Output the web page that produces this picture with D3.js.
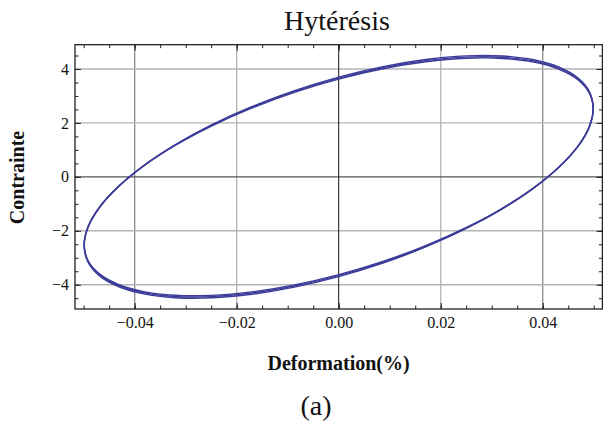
<!DOCTYPE html>
<html><head><meta charset="utf-8">
<script src="https://cdn.jsdelivr.net/npm/d3@7"></script>
<style>
html,body{margin:0;padding:0;background:#fff;}
svg{display:block;}
svg text{font-family:"Liberation Serif",serif;}
</style></head>
<body>
<svg id="chart" width="603" height="425"></svg>
<script>
// ---- data ----
const title = "Hytérésis";
const xLabel = "Deformation(%)";
const yLabel = "Contrainte";
const caption = "(a)";
const xTicks = [-0.04, -0.02, 0, 0.02, 0.04];
const xTickLabels = ["\u22120.04", "\u22120.02", "0.00", "0.02", "0.04"];
const yTicks = [-4, -2, 0, 2, 4];
const yTickLabels = ["\u22124", "\u22122", "0", "2", "4"];
// strain values shared by the cycles
const strain = [0, 0.00867, 0.01707, 0.02495, 0.03208, 0.03823, 0.04321, 0.04689, 0.04914, 0.0499,
  0.04914, 0.04689, 0.04321, 0.03823, 0.03208, 0.02495, 0.01707, 0.00867,
  0, -0.00867, -0.01707, -0.02495, -0.03208, -0.03823, -0.04321, -0.04689, -0.04914, -0.0499,
  -0.04914, -0.04689, -0.04321, -0.03823, -0.03208, -0.02495, -0.01707, -0.00867];
// cycle 1 (inner)
const stress1 = [3.626, 4.007, 4.266, 4.395, 4.391, 4.254, 3.987, 3.599, 3.102, 2.511,
  1.843, 1.119, 0.361, -0.407, -1.164, -1.885, -2.548, -3.135,
  -3.626, -4.007, -4.266, -4.395, -4.391, -4.254, -3.987, -3.599, -3.102, -2.511,
  -1.843, -1.119, -0.361, 0.407, 1.164, 1.885, 2.548, 3.135];
// cycle 2 (middle)
const stress2 = [3.663, 4.047, 4.309, 4.440, 4.436, 4.297, 4.028, 3.636, 3.134, 2.536,
  1.862, 1.131, 0.365, -0.412, -1.176, -1.904, -2.574, -3.167,
  -3.663, -4.047, -4.309, -4.440, -4.436, -4.297, -4.028, -3.636, -3.134, -2.536,
  -1.862, -1.131, -0.365, 0.412, 1.176, 1.904, 2.574, 3.167];
// cycle 3 (outer)
const stress3 = [3.700, 4.088, 4.353, 4.485, 4.481, 4.341, 4.068, 3.673, 3.165, 2.562,
  1.880, 1.142, 0.369, -0.416, -1.187, -1.923, -2.600, -3.199,
  -3.700, -4.088, -4.353, -4.485, -4.481, -4.341, -4.068, -3.673, -3.165, -2.562,
  -1.880, -1.142, -0.369, 0.416, 1.187, 1.923, 2.600, 3.199];
const xMinor = d3.range(-50, 51, 5).map(v => v / 1000);
const yMinor = d3.range(-45, 46, 5).map(v => v / 10);

// ---- layout ----
const L = 75, R = 602.4, T = 44.7, B = 309;
const serif = "Liberation Serif, serif";
const svg = d3.select("#chart");
const x = d3.scaleLinear().domain([-0.0517, 0.0517]).range([L, R]);
const y = d3.scaleLinear().domain([-4.9, 4.9]).range([B, T]);

// grid
const g = svg.append("g");
g.selectAll("line.gx").data(xTicks.filter(v => v !== 0)).join("line")
  .attr("x1", d => x(d)).attr("x2", d => x(d)).attr("y1", T).attr("y2", B)
  .attr("stroke", d => Math.abs(d) > 0.03 ? "#8c8c8c" : "#b4b4b4").attr("stroke-width", 1.3);
g.selectAll("line.gy").data(yTicks.filter(v => v !== 0)).join("line")
  .attr("x1", L).attr("x2", R).attr("y1", d => y(d)).attr("y2", d => y(d))
  .attr("stroke", "#b4b4b4").attr("stroke-width", 1.4);
g.append("line").attr("x1", L).attr("x2", R).attr("y1", y(0)).attr("y2", y(0))
  .attr("stroke", "#555").attr("stroke-width", 1.4);
g.append("line").attr("x1", x(0)).attr("x2", x(0)).attr("y1", T).attr("y2", B)
  .attr("stroke", "#111").attr("stroke-width", 1);

// curves
const line = d3.line().x(d => x(d[0])).y(d => y(d[1])).curve(d3.curveCatmullRomClosed);
[stress1, stress2, stress3].forEach(ys => {
  svg.append("path").datum(strain.map((v, i) => [v, ys[i]]))
    .attr("d", line).attr("fill", "none").attr("stroke", "#3c3c9a").attr("stroke-width", 1.4);
});

// axes (ticks inward on all sides)
function styleAxis(sel) {
  sel.attr("font-family", null).attr("font-size", null);
  sel.select(".domain").remove();
  sel.selectAll("line").attr("stroke", "#222").attr("stroke-width", 1);
  sel.selectAll("text").style("font-family", serif).style("font-size", "16px").attr("fill", "#111");
}
svg.append("g").attr("transform", `translate(0,${B})`)
  .call(d3.axisBottom(x).tickValues(xTicks).tickSize(-6).tickPadding(8)
    .tickFormat((d, i) => xTickLabels[i])).call(styleAxis);
svg.append("g").attr("transform", `translate(0,${B})`)
  .call(d3.axisBottom(x).tickValues(xMinor).tickSize(-3.5).tickFormat("")).call(styleAxis);
svg.append("g").attr("transform", `translate(0,${T})`)
  .call(d3.axisTop(x).tickValues(xTicks).tickSize(-6).tickFormat("")).call(styleAxis);
svg.append("g").attr("transform", `translate(0,${T})`)
  .call(d3.axisTop(x).tickValues(xMinor).tickSize(-3.5).tickFormat("")).call(styleAxis);
svg.append("g").attr("transform", `translate(${L},0)`)
  .call(d3.axisLeft(y).tickValues(yTicks).tickSize(-6).tickPadding(6)
    .tickFormat((d, i) => yTickLabels[i])).call(styleAxis);
svg.append("g").attr("transform", `translate(${L},0)`)
  .call(d3.axisLeft(y).tickValues(yMinor).tickSize(-3.5).tickFormat("")).call(styleAxis);
svg.append("g").attr("transform", `translate(${R},0)`)
  .call(d3.axisRight(y).tickValues(yTicks).tickSize(-6).tickFormat("")).call(styleAxis);
svg.append("g").attr("transform", `translate(${R},0)`)
  .call(d3.axisRight(y).tickValues(yMinor).tickSize(-3.5).tickFormat("")).call(styleAxis);

// frame
svg.append("rect").attr("x", L).attr("y", T).attr("width", R - L).attr("height", B - T)
  .attr("fill", "none").attr("stroke", "#222").attr("stroke-width", 1.3);

// texts
svg.append("text").attr("x", 337).attr("y", 29.5).attr("text-anchor", "middle")
  .style("font-family", serif).style("font-size", "28px").attr("fill", "#111").text(title);
svg.append("text").attr("x", 338.6).attr("y", 370).attr("text-anchor", "middle")
  .style("font-family", serif).style("font-size", "20px").style("font-weight", "bold").attr("fill", "#111").text(xLabel);
svg.append("text").attr("transform", "translate(23.5,177.5) rotate(-90)").attr("text-anchor", "middle")
  .style("font-family", serif).style("font-size", "20px").style("font-weight", "bold").attr("fill", "#111").text(yLabel);
svg.append("text").attr("x", 316).attr("y", 415).attr("text-anchor", "middle")
  .style("font-family", serif).style("font-size", "28px").attr("fill", "#111").text(caption);
</script>
</body></html>
